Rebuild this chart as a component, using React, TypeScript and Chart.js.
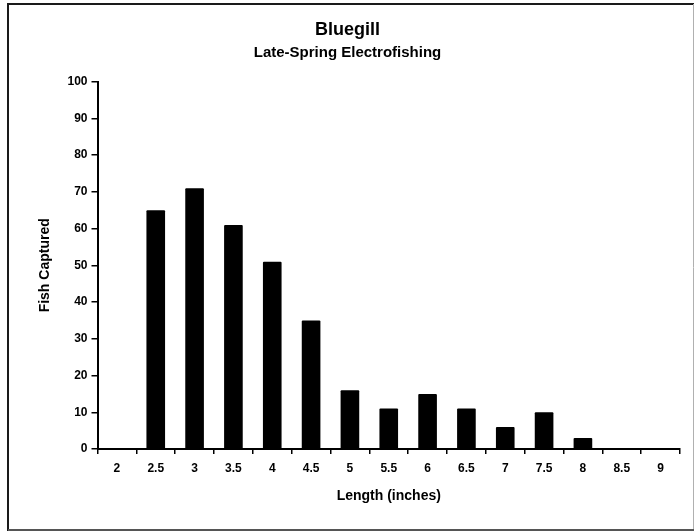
import React, { useEffect, useRef } from "react";
import { Chart, registerables } from "chart.js";

Chart.register(...registerables);

// Length classes (inches) and fish counts per class
const lengths: string[] = ["2", "2.5", "3", "3.5", "4", "4.5", "5", "5.5", "6", "6.5", "7", "7.5", "8", "8.5", "9"];
const fishCaptured: number[] = [0, 65, 71, 61, 51, 35, 16, 11, 15, 11, 6, 10, 3, 0, 0];
const yTicks: number[] = [0, 10, 20, 30, 40, 50, 60, 70, 80, 90, 100];

const titleText = "Bluegill";
const subtitleText = "Late-Spring Electrofishing";
const xTitle = "Length (inches)";
const yTitle = "Fish Captured";

const FONT = "'Liberation Sans', Arial, Helvetica, sans-serif";

// Frame drawn around the whole figure
const framePlugin = {
  id: "frame",
  afterDraw(chart: Chart) {
    const ctx = chart.ctx;
    ctx.save();
    ctx.lineCap = "butt";
    // top edge
    ctx.strokeStyle = "#1a1a1a";
    ctx.lineWidth = 2;
    ctx.beginPath();
    ctx.moveTo(7, 4);
    ctx.lineTo(694, 4);
    ctx.stroke();
    // left edge
    ctx.beginPath();
    ctx.moveTo(8, 3);
    ctx.lineTo(8, 531);
    ctx.stroke();
    // right edge
    ctx.strokeStyle = "#b0b0b0";
    ctx.lineWidth = 1;
    ctx.beginPath();
    ctx.moveTo(693.5, 4);
    ctx.lineTo(693.5, 531);
    ctx.stroke();
    // bottom edge
    ctx.strokeStyle = "#555";
    ctx.lineWidth = 2;
    ctx.beginPath();
    ctx.moveTo(8, 530);
    ctx.lineTo(694, 530);
    ctx.stroke();
    ctx.restore();
  },
};

export default function App() {
  const canvasRef = useRef<HTMLCanvasElement | null>(null);

  useEffect(() => {
    if (!canvasRef.current) return;
    const chart = new Chart(canvasRef.current, {
      type: "bar",
      data: {
        labels: lengths,
        datasets: [
          {
            label: yTitle,
            data: fishCaptured,
            backgroundColor: "#000",
            borderWidth: 0,
            borderRadius: 1,
            barPercentage: 0.48,
            categoryPercentage: 1,
          },
        ],
      },
      options: {
        responsive: false,
        animation: false,
        layout: { padding: { left: 15, right: 15, top: 0, bottom: 20 } },
        plugins: {
          legend: { display: false },
          tooltip: { enabled: false },
          title: {
            display: true,
            text: titleText,
            color: "#000",
            font: { family: FONT, size: 18, weight: "bold" },
            padding: { top: 19, bottom: 0 },
          },
          subtitle: {
            display: true,
            text: subtitleText,
            color: "#000",
            font: { family: FONT, size: 15, weight: "bold" },
            padding: { top: 3, bottom: 20 },
          },
        },
        scales: {
          x: {
            afterFit(scale: any) {
              scale.height = 62;
            },
            border: { display: true, color: "#000", width: 2 },
            grid: {
              display: true,
              drawOnChartArea: false,
              drawTicks: true,
              tickLength: 5,
              color: "#000",
              lineWidth: 1.5,
              offset: true,
            },
            ticks: {
              color: "#000",
              font: { family: FONT, size: 12, weight: "bold" },
              padding: 7,
              maxRotation: 0,
              autoSkip: false,
            },
            title: {
              display: true,
              text: xTitle,
              color: "#000",
              font: { family: FONT, size: 14, weight: "bold" },
              padding: { top: 0, bottom: 6 },
            },
          },
          y: {
            min: 0,
            max: 100,
            afterFit(scale: any) {
              scale.width = 82.5;
            },
            afterBuildTicks(scale: any) {
              scale.ticks = yTicks.map((v) => ({ value: v }));
            },
            border: { display: true, color: "#000", width: 2 },
            grid: {
              display: true,
              drawOnChartArea: false,
              drawTicks: true,
              tickLength: 6,
              color: "#000",
              lineWidth: 1.5,
            },
            ticks: {
              color: "#000",
              font: { family: FONT, size: 12, weight: "bold" },
              padding: 4,
            },
            title: {
              display: true,
              text: yTitle,
              color: "#000",
              font: { family: FONT, size: 14, weight: "bold" },
              padding: { top: 22, bottom: 0 },
            },
          },
        },
      },
      plugins: [framePlugin],
    });
    return () => chart.destroy();
  }, []);

  return (
    <div style={{ position: "absolute", left: 0, top: 0, width: 695, height: 531, background: "#fff" }}>
      <canvas ref={canvasRef} width={695} height={531} style={{ display: "block" }} />
    </div>
  );
}
